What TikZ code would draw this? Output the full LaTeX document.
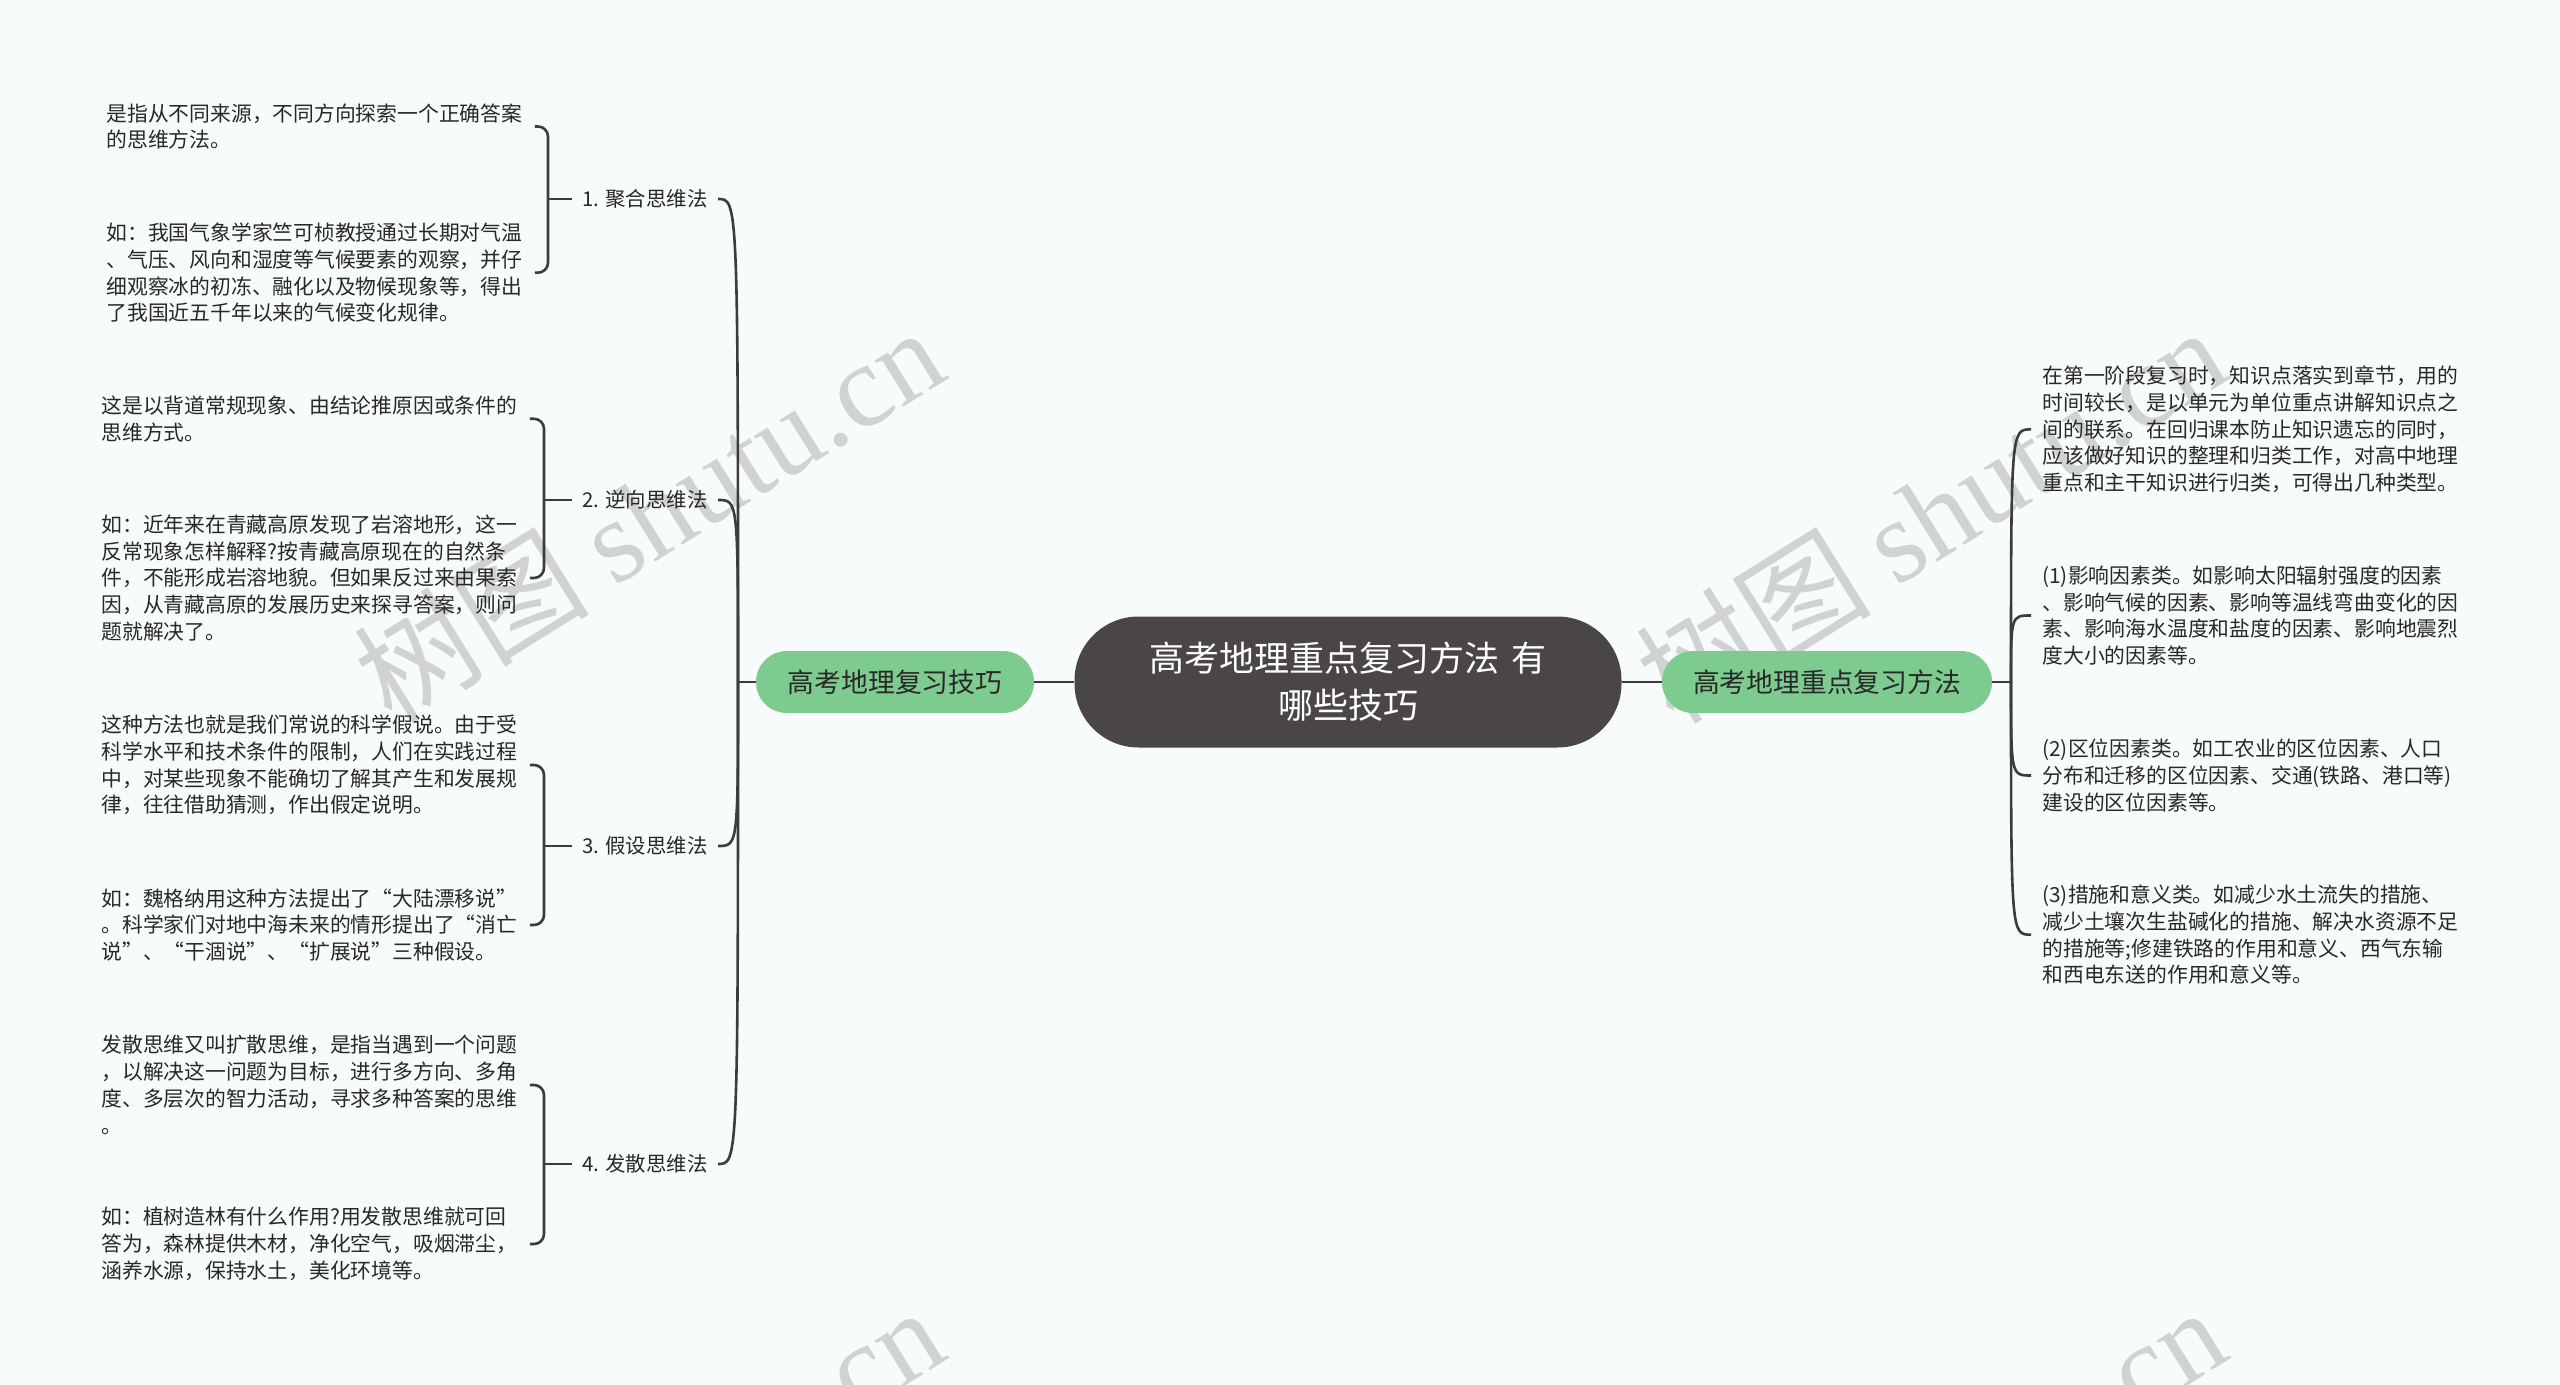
\documentclass[tikz,border=0pt]{standalone}
\usepackage{fontspec}
\setmainfont{Noto Sans CJK SC}
\newfontfamily\wmlatin{Liberation Serif}
\usetikzlibrary{calc}
\definecolor{bgc}{RGB}{247,251,252}
\definecolor{gnode}{RGB}{125,203,142}
\definecolor{cnode}{RGB}{75,70,70}
\definecolor{linec}{RGB}{60,60,60}
\definecolor{txt}{RGB}{40,40,40}
\definecolor{wmc}{RGB}{208,210,211}
\tikzset{
  conn/.style={draw=linec, line width=1.3pt},
  leaf/.style={anchor=west, align=left, text width=212pt, inner xsep=2pt, inner ysep=2pt, text=txt, font=\fontsize{10.4}{13.4}\selectfont},
  rleaf/.style={anchor=west, align=left, text width=212pt, inner xsep=5.5pt, inner ysep=2pt, text=txt, font=\fontsize{10.4}{13.4}\selectfont},
  lab/.style={anchor=east, inner xsep=5pt, inner ysep=2pt, text=txt, font=\fontsize{10.2}{12}\selectfont},
  green/.style={fill=gnode, rounded corners=15.5pt, minimum height=31pt, inner sep=0pt, text=txt, font=\fontsize{13.4}{16}\selectfont},
  topic/.style={fill=cnode, rounded corners=32pt, minimum width=273.5pt, minimum height=65.5pt, text width=250pt, align=center, inner sep=0pt, text=white, font=\fontsize{17.5}{23.5}\selectfont},
  wm/.style={rotate=32, text=wmc, font=\fontsize{59}{59}\selectfont}
}
\begin{document}
\begin{tikzpicture}[x=0.5pt,y=-0.5pt]
\fill[bgc] (0,0) rectangle (2560,1385);
\useasboundingbox (0,0) rectangle (2560,1385);
\begin{scope}
\clip (0,0) rectangle (2560,1385);
\node[wm] (wm1) at (648,514) {树图 {\wmlatin shutu.cn}};
\node[wm] (wm2) at (1930,514) {树图 {\wmlatin shutu.cn}};
\node[wm] (wm3) at (648,1494) {树图 {\wmlatin shutu.cn}};
\node[wm] (wm4) at (1930,1494) {树图 {\wmlatin shutu.cn}};
\end{scope}

% central topic and main branches
\node[topic] (c) at (1348,682) {高考地理重点复习方法 有\\哪些技巧};
\node[green, minimum width=139pt] (lg) at (895,682) {高考地理复习技巧};
\node[green, minimum width=165pt] (rg) at (1827,682) {高考地理重点复习方法};
\draw[conn] (c.west) -- (lg.east);
\draw[conn] (c.east) -- (rg.west);

% left labels
\node[lab] (l1) at (718,199) {1. 聚合思维法};
\node[lab] (l2) at (718,500) {2. 逆向思维法};
\node[lab] (l3) at (718,846) {3. 假设思维法};
\node[lab] (l4) at (718,1164) {4. 发散思维法};

\coordinate (S) at (738,682);
\draw[conn] (lg.west) -- (S);
\foreach \n in {l1,l2,l3,l4}{
  \draw[conn] (S) .. controls (S |- \n.east) and (S |- \n.east) .. (\n.east);
}

% left leaves
\node[leaf] (a1) at (102,126.5) {是指从不同来源，不同方向探索一个正确答案\\的思维方法。};
\node[leaf] (b1) at (102,272.7) {如：我国气象学家竺可桢教授通过长期对气温\\、气压、风向和湿度等气候要素的观察，并仔\\细观察冰的初冻、融化以及物候现象等，得出\\了我国近五千年以来的气候变化规律。};
\node[leaf] (a2) at (97,418.8) {这是以背道常规现象、由结论推原因或条件的\\思维方式。};
\node[leaf] (b2) at (97,578) {如：近年来在青藏高原发现了岩溶地形，这一\\反常现象怎样解释?按青藏高原现在的自然条\\件，不能形成岩溶地貌。但如果反过来由果索\\因，从青藏高原的发展历史来探寻答案，则问\\题就解决了。};
\node[leaf] (a3) at (97,765) {这种方法也就是我们常说的科学假说。由于受\\科学水平和技术条件的限制，人们在实践过程\\中，对某些现象不能确切了解其产生和发展规\\律，往往借助猜测，作出假定说明。};
\node[leaf] (b3) at (97,925) {如：魏格纳用这种方法提出了“大陆漂移说”\\。科学家们对地中海未来的情形提出了“消亡\\说”、“干涸说”、“扩展说”三种假设。};
\node[leaf] (a4) at (97,1085) {发散思维又叫扩散思维，是指当遇到一个问题\\，以解决这一问题为目标，进行多方向、多角\\度、多层次的智力活动，寻求多种答案的思维\\。};
\node[leaf] (b4) at (97,1244) {如：植树造林有什么作用?用发散思维就可回\\答为，森林提供木材，净化空气，吸烟滞尘，\\涵养水源，保持水土，美化环境等。};

% brackets
\coordinate (k1) at (548,199);
\coordinate (k2) at (544,500);
\coordinate (k3) at (544,846);
\coordinate (k4) at (544,1164);
\foreach \i in {1,2,3,4}{
  \draw[conn, rounded corners=5pt] (a\i.east) -| (k\i) |- (b\i.east);
  \draw[conn] (k\i) -- (l\i.west);
}

% right leaves
\node[rleaf] (r0) at (2031,429.4) {在第一阶段复习时，知识点落实到章节，用的\\时间较长，是以单元为单位重点讲解知识点之\\间的联系。在回归课本防止知识遗忘的同时，\\应该做好知识的整理和归类工作，对高中地理\\重点和主干知识进行归类，可得出几种类型。};
\node[rleaf] (r1) at (2031,615.5) {(1)影响因素类。如影响太阳辐射强度的因素\\、影响气候的因素、影响等温线弯曲变化的因\\素、影响海水温度和盐度的因素、影响地震烈\\度大小的因素等。};
\node[rleaf] (r2) at (2031,775.5) {(2)区位因素类。如工农业的区位因素、人口\\分布和迁移的区位因素、交通(铁路、港口等)\\建设的区位因素等。};
\node[rleaf] (r3) at (2031,934.7) {(3)措施和意义类。如减少水土流失的措施、\\减少土壤次生盐碱化的措施、解决水资源不足\\的措施等;修建铁路的作用和意义、西气东输\\和西电东送的作用和意义等。};

\coordinate (R) at (2011,682);
\draw[conn] (rg.east) -- (R);
\foreach \n in {r0,r1,r2,r3}{
  \draw[conn] (R) .. controls (R |- \n.west) and (R |- \n.west) .. (\n.west);
}
\end{tikzpicture}
\end{document}
